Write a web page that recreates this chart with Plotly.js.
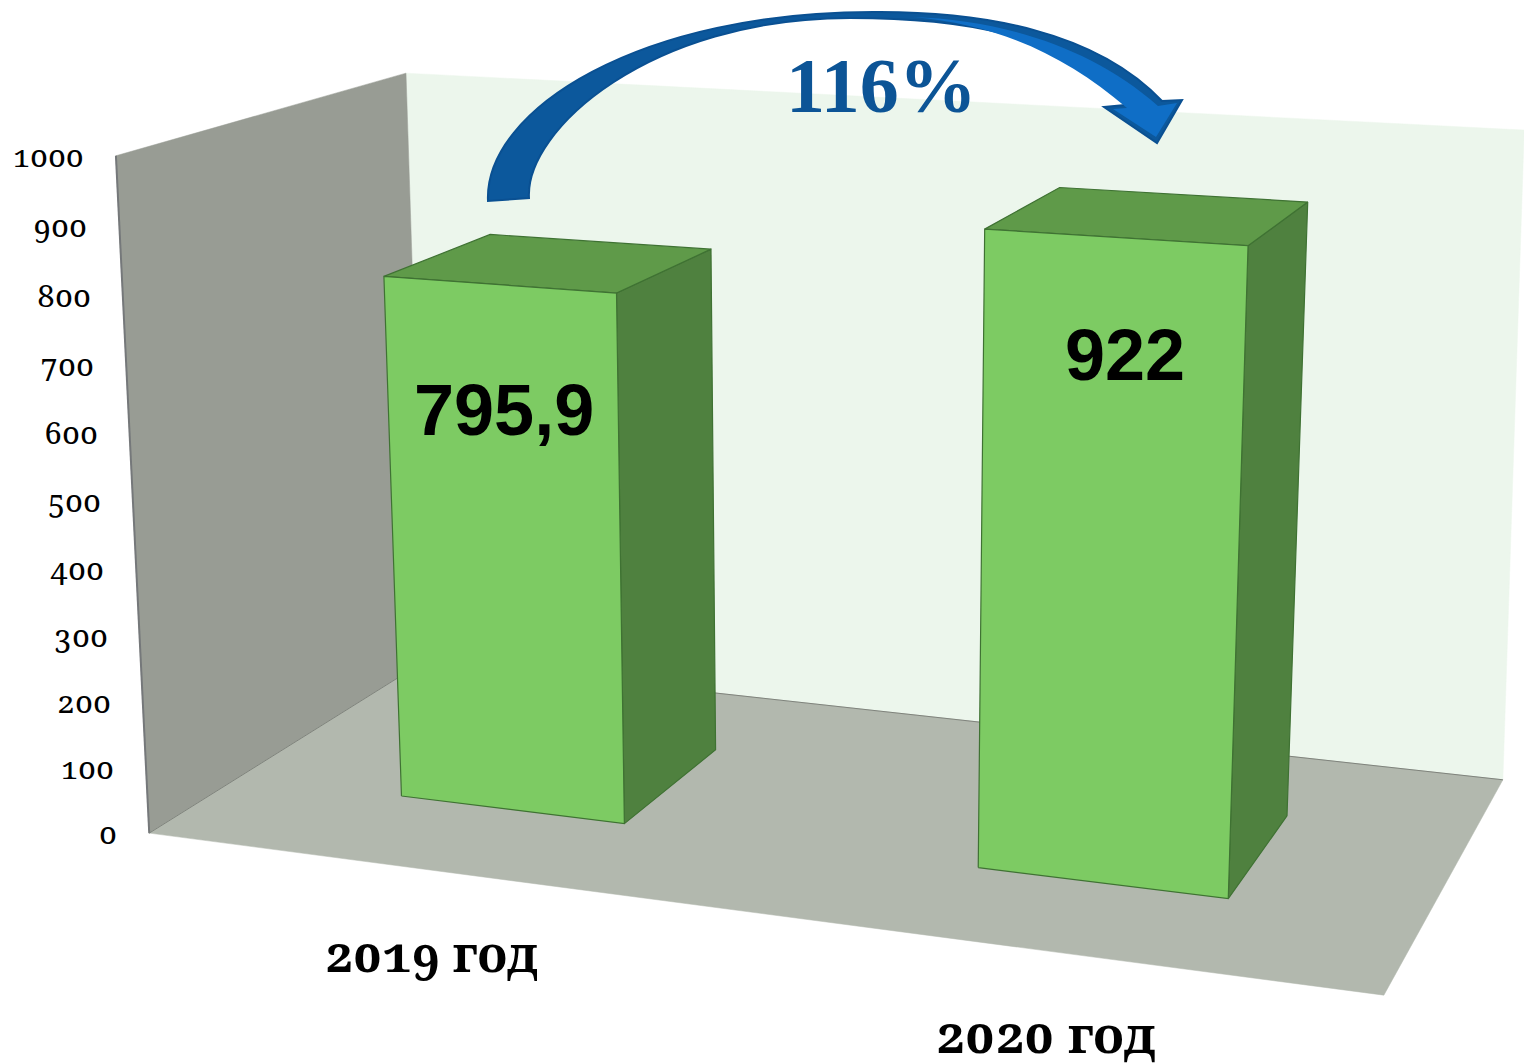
<!DOCTYPE html>
<html><head><meta charset="utf-8">
<script src="https://cdn.plot.ly/plotly-3.0.1.min.js"></script>
<style>body{margin:0;background:#fff}
svg text{font-feature-settings:"onum";}
</style></head><body><div id="chart"></div>
<script>
// ---- data ----
const categories=['2019 год','2020 год'];
const values=[795.9,922];
const valueLabels=['795,9','922'];
const tickValues=[0,100,200,300,400,500,600,700,800,900,1000];
const growthLabel='116%';

// ---- 3-D box axes: X = category axis, Y = value / axis max, Z = depth ----
const axisMax=1000;
const barSpan=[[0.15,0.35],[0.65,0.85]];
const barLeanLeft=[0,0.0045];
const barLeanRight=[0.0025,0.0068];
const barDepth=[0.30,0.70];
const calibration=[[0,0,0,150,833],[1,0,0,1384,995],[0,0,1,424,661],[1,0,1,1503,780],[0,1,0,115,156],[0,1,1,407,73],[1,1,1,1524,130]];
function solve(A,b){const n=b.length;A=A.map((r,i)=>[...r,b[i]]);
 for(let c=0;c<n;c++){let m=c;for(let r=c;r<n;r++)if(Math.abs(A[r][c])>Math.abs(A[m][c]))m=r;[A[c],A[m]]=[A[m],A[c]];
  for(let r=0;r<n;r++)if(r!==c){const f=A[r][c]/A[c][c];for(let k=c;k<=n;k++)A[r][k]-=f*A[c][k];}}
 return A.map((r,i)=>r[n]/r[i]);}
const rows=[],rhs=[];
calibration.forEach(([X,Y,Z,u,v])=>{rows.push([X,Y,Z,1,0,0,0,0,-u*X,-u*Y,-u*Z]);rhs.push(u);rows.push([0,0,0,0,X,Y,Z,1,-v*X,-v*Y,-v*Z]);rhs.push(v);});
const N=Array.from({length:11},(_,i)=>Array.from({length:11},(_,j)=>rows.reduce((s,r)=>s+r[i]*r[j],0)));
const B=Array.from({length:11},(_,i)=>rows.reduce((s,r,k)=>s+r[i]*rhs[k],0));
const p=solve(N,B);
function proj(X,V,Z){const Y=V/axisMax,w=p[8]*X+p[9]*Y+p[10]*Z+1;return [(p[0]*X+p[1]*Y+p[2]*Z+p[3])/w,(p[4]*X+p[5]*Y+p[6]*Z+p[7])/w];}

function face(pts,fill,line,lw){const q=pts.map(a=>proj(a[0],a[1],a[2]));q.push(q[0]);
 return {x:q.map(a=>a[0]),y:q.map(a=>a[1]),type:'scatter',mode:'lines',fill:'toself',fillcolor:fill,
  line:{color:line,width:lw},hoverinfo:'skip',showlegend:false};}
const traces=[];
const M=axisMax;
traces.push(face([[0,0,1],[1,0,1],[1,M,1],[0,M,1]],'#ECF6EC','#ECF6EC',0.5));
traces.push(face([[0,0,0],[0,0,1],[0,M,1],[0,M,0]],'#989C94','#989C94',0.5));
traces.push(face([[0,0,0],[0,0,1],[1,0,1],[1,0,0]],'#B2B8AE','#B2B8AE',0.5));
[[[0,0,0],[0,M,0],'#75787A',2],[[0,0,0],[0,0,1],'#7F837C',1],[[0,0,1],[1,0,1],'#7F837C',1]].forEach(([a,b,c,w])=>{
 const q=[proj(...a),proj(...b)];traces.push({x:q.map(s=>s[0]),y:q.map(s=>s[1]),type:'scatter',mode:'lines',line:{color:c,width:w},hoverinfo:'skip',showlegend:false});});
values.forEach((v,i)=>{const [a,b]=barSpan[i],[f,k]=barDepth,l=barLeanLeft[i],r=barLeanRight[i];const E='#3F7233';
 traces.push(face([[b,0,f],[b,0,k],[b+r,v,k],[b+r,v,f]],'#4F813F',E,1.2));
 traces.push(face([[a+l,v,f],[b+r,v,f],[b+r,v,k],[a+l,v,k]],'#5F9A49',E,1.2));
 traces.push(face([[a,0,f],[b,0,f],[b+r,v,f],[a+l,v,f]],'#7DCB63',E,1.2));
});

const text=(x,y,t,font,o)=>Object.assign({x,y,xref:'x',yref:'y',text:t,showarrow:false,font},o||{});
const annotations=[];
const serif='"Noto Serif","Liberation Serif",serif';
tickValues.forEach(v=>{const q=proj(0,v,0);annotations.push(text(q[0],q[1],String(v),{family:serif,size:31,color:'#000',weight:400},{xanchor:'right',xshift:-30,yanchor:'middle',yshift:1}));});
const catPos=[[431,953,49],[1045,1033,50.5]];
categories.forEach((c,i)=>annotations.push(text(catPos[i][0],catPos[i][1],c,{family:serif,size:catPos[i][2],color:'#000',weight:700},{xanchor:'center',yanchor:'middle'})));
const labelPos=[[504,410],[1125,355]];
valueLabels.forEach((c,i)=>annotations.push(text(labelPos[i][0],labelPos[i][1],c,{family:'"Liberation Sans",Arial,sans-serif',size:72,color:'#000',weight:700},{xanchor:'center',yanchor:'middle'})));
annotations.push(text(881,85,growthLabel,{family:'"Liberation Serif",serif',size:78,color:'#0C5496',weight:700},{xanchor:'center',yanchor:'middle'}));

// curved arrow (decoration)
const arrowPath='M488,201 C484,110 640,10 880,12 C980,12 1095,30 1162,101 L1182,100 L1157,143 L1104,107 L1125,105 C1065,30 950,18 850,18 C650,18 525,130 529,198 Z';
const arrowHi='M913,17 C1000,20 1090,46 1158,106 L1177,103 L1156,137 L1113,109 L1127,108 C1065,55 1000,25 913,17 Z';
const shapes=[
 {type:'path',xref:'x',yref:'y',path:arrowPath,fillcolor:'#0C589C',line:{color:'#0A5092',width:2},layer:'above'},
 {type:'path',xref:'x',yref:'y',path:arrowHi,fillcolor:'#0F6EC6',line:{width:0},layer:'above'}
];
const hidden={visible:false,fixedrange:true,autorange:false};
Plotly.newPlot('chart',traces,{width:1524,height:1064,margin:{l:0,r:0,t:0,b:0,pad:0},
 paper_bgcolor:'#fff',plot_bgcolor:'#fff',showlegend:false,
 xaxis:Object.assign({range:[0,1524]},hidden),yaxis:Object.assign({range:[1064,0]},hidden),
 annotations,shapes},{staticPlot:true,displayModeBar:false});
</script></body></html>
